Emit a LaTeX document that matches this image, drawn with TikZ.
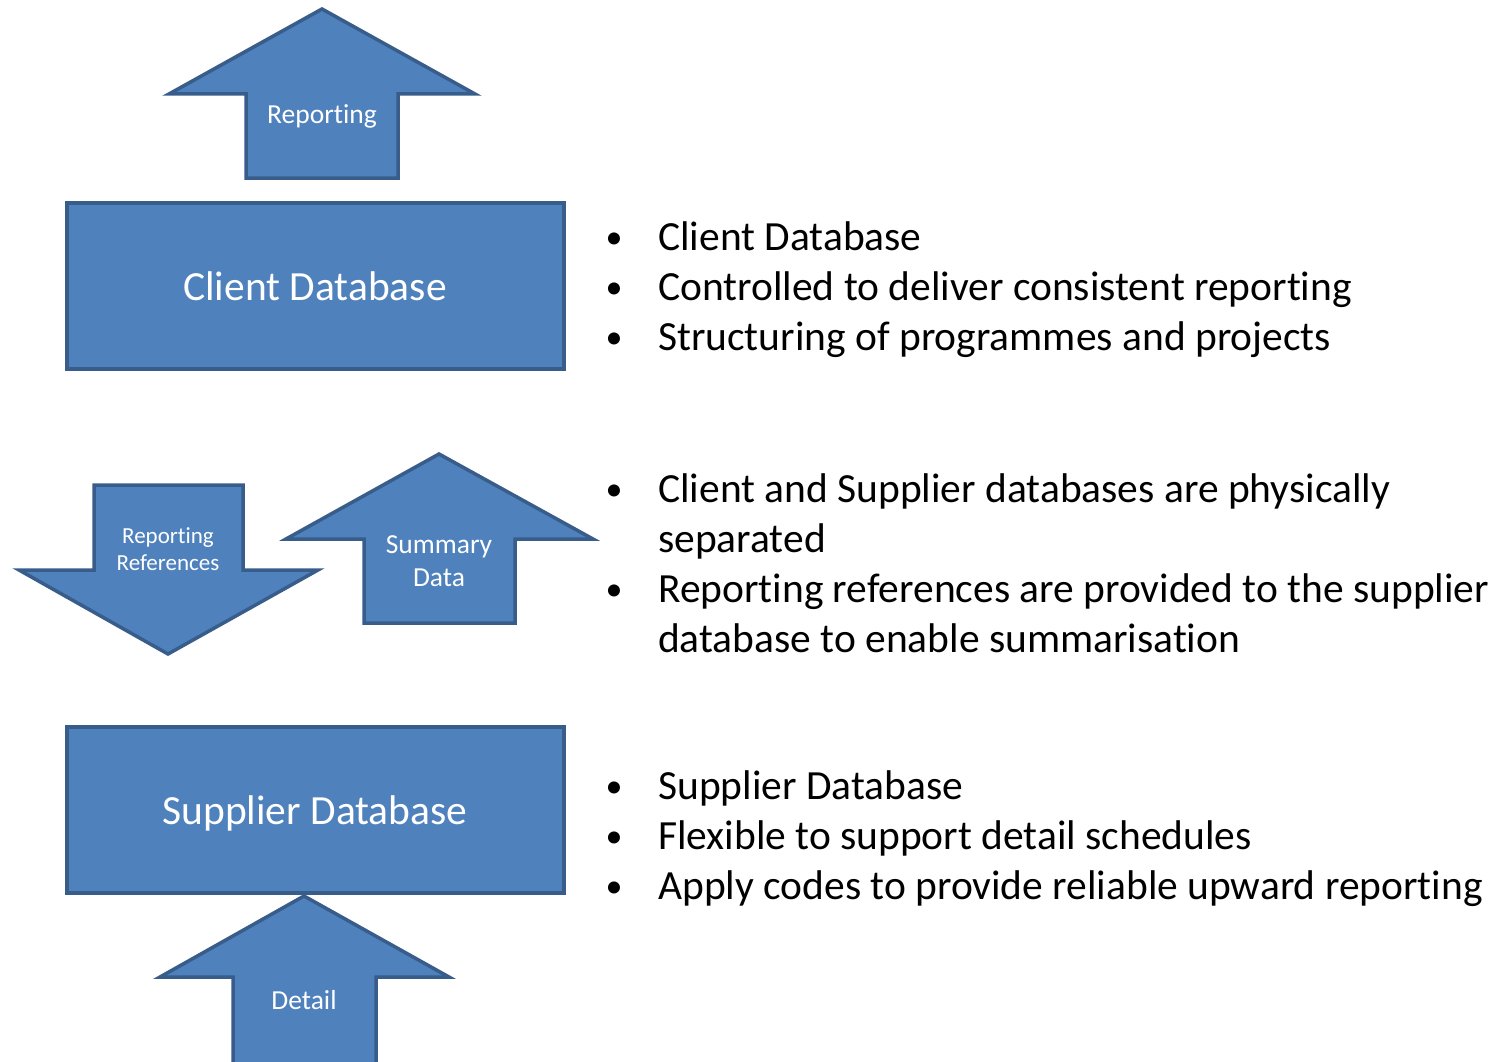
\documentclass[tikz,border=0pt]{standalone}
\usepackage{fontspec}
\setmainfont[Ligatures=NoCommon]{Carlito}
\begin{document}
\begin{tikzpicture}[x=1pt,y=-1pt,
  blueshape/.style={fill=fillblue,draw=edgeblue,line width=3.5pt,line join=miter},
  boxlabel/.style={text=white,font=\fontsize{41.5}{50}\selectfont,anchor=base},
  arrlabel/.style={text=white,font=\fontsize{27.5}{33}\selectfont,anchor=base},
  smalllabel/.style={text=white,font=\fontsize{23}{27}\selectfont,anchor=base},
  bullettext/.style={font=\fontsize{41.5}{50}\selectfont,anchor=base west,inner sep=0pt},
  bulletmark/.style={font=\fontsize{34}{50}\selectfont,anchor=base,inner sep=0pt}]
\definecolor{fillblue}{HTML}{4F81BD}
\definecolor{edgeblue}{HTML}{385D8A}
\useasboundingbox (0,0) rectangle (1496,1062);
% Reporting arrow (up)
\draw[blueshape] (322,9) -- (475,94) -- (398,94) -- (398,178) -- (246,178) -- (246,94) -- (169,94) -- cycle;
\node[arrlabel] (lrep) at (322,124) {Reporting};
% Client database
\draw[blueshape] (67,203) rectangle (564,369);
\node[boxlabel] (lclient) at (315,300) {Client Database};
% Reporting references (down)
\draw[blueshape] (94,485) -- (243,485) -- (243,570) -- (318,570) -- (168,654) -- (19,570) -- (94,570) -- cycle;
\node[smalllabel] (lref1) at (168,543) {Reporting};
\node[smalllabel] (lref2) at (168,570) {References};
% Summary data (up)
\draw[blueshape] (439,454) -- (593,539) -- (515,539) -- (515,623) -- (364,623) -- (364,539) -- (286,539) -- cycle;
\node[arrlabel] (lsum1) at (439,553) {Summary};
\node[arrlabel] (lsum2) at (439,586) {Data};
% Supplier database
\draw[blueshape] (67,727) rectangle (564,893);
\node[boxlabel] (lsupp) at (315,824) {Supplier Database};
% Detail arrow (up)
\draw[blueshape] (304,896) -- (449,977) -- (376,977) -- (376,1075) -- (233,1075) -- (233,977) -- (160,977) -- cycle;
\node[arrlabel] (ldet) at (304,1009) {Detail};
% Bullets
\foreach \y/\t [count=\i] in {
  250/{Client Database},
  300/{Controlled to deliver consistent reporting},
  350/{Structuring of programmes and projects},
  502/{Client and Supplier databases are physically},
  602/{Reporting references are provided to the supplier},
  799/{Supplier Database},
  849/{Flexible to support detail schedules},
  899/{Apply codes to provide reliable upward reporting}}{
  \node[bulletmark] (b\i) at (614,\y-2) {•};
  \node[bullettext] (t\i) at (658,\y) {\t};
}
\node[bullettext] (c1) at (658,552) {separated};
\node[bullettext] (c2) at (658,652) {database to enable summarisation};
\end{tikzpicture}
\end{document}
